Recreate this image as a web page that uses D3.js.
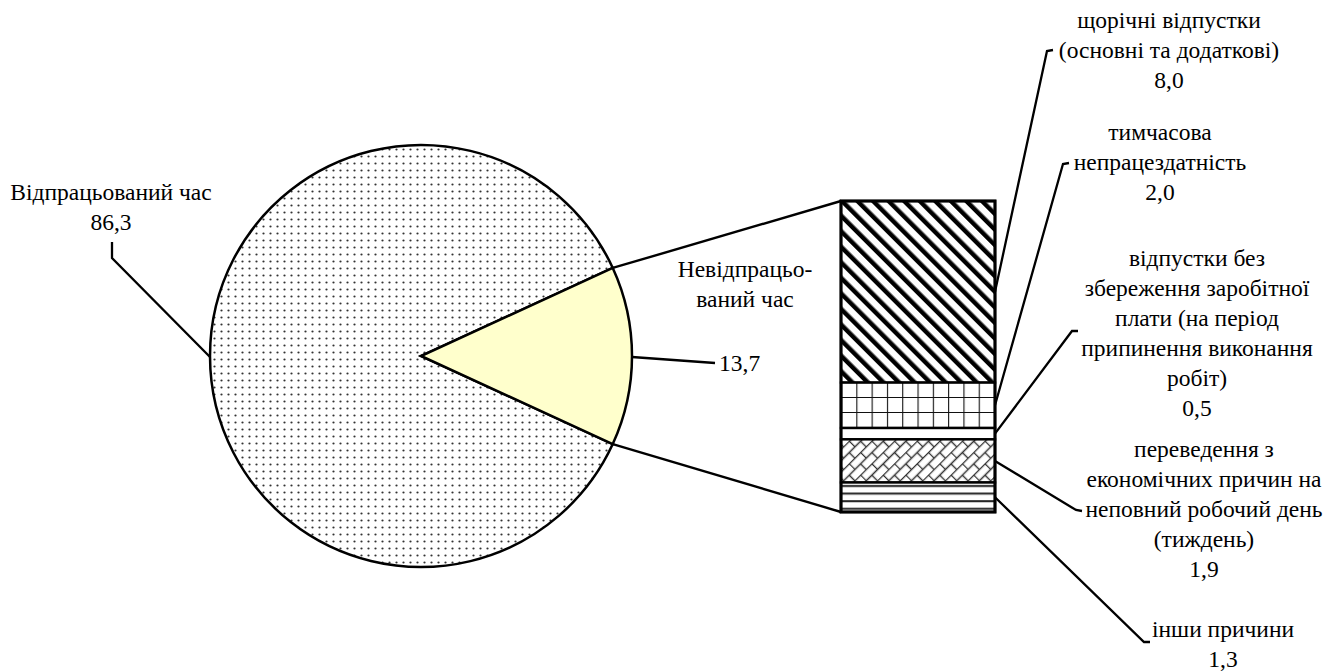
<!DOCTYPE html>
<html>
<head>
<meta charset="utf-8">
<script src="https://cdn.jsdelivr.net/npm/d3@7"></script>
<style>
	body { margin: 0; background: #fff; }
</style>
</head>
<body>
<div id="chart"></div>
<script>
// main pie
var mainLabels = [['Відпрацьований час'], ['Невідпрацьо-', 'ваний час']]
var mainValues = [86.3, 13.7]
var mainText = ['86,3', '13,7']

// breakdown of the unworked time
var subLabels = [
	['щорічні відпустки', '(основні та додаткові)'],
	['тимчасова', 'непрацездатність'],
	['відпустки без', 'збереження заробітної', 'плати (на період', 'припинення виконання', 'робіт)'],
	['переведення з', 'економічних причин на', 'неповний робочий день', '(тиждень)'],
	['інши причини']
]
var subValues = [8.0, 2.0, 0.5, 1.9, 1.3]
var subText = ['8,0', '2,0', '0,5', '1,9', '1,3']
var subPatterns = ['diag', 'grid', 'none', 'brick', 'hlines']

var width = 1337
var height = 671
var font = 'Liberation Serif'
var fontSize = '23.5px'

var svg = d3.select('#chart')
	.append('svg')
	.attr('width', width)
	.attr('height', height)

var defs = svg.append('defs')

var dots = defs.append('pattern')
	.attr('id', 'dots')
	.attr('patternUnits', 'userSpaceOnUse')
	.attr('width', 7)
	.attr('height', 7)
dots.append('rect').attr('width', 7).attr('height', 7).attr('fill', '#fff')
dots.append('circle').attr('cx', 3.5).attr('cy', 3.5).attr('r', 1.1).attr('fill', '#333')

var diag = defs.append('pattern')
	.attr('id', 'diag')
	.attr('patternUnits', 'userSpaceOnUse')
	.attr('width', 11)
	.attr('height', 11)
	.attr('patternTransform', 'rotate(-45)')
diag.append('rect').attr('width', 11).attr('height', 11).attr('fill', '#fff')
diag.append('rect').attr('x', 0).attr('width', 4.5).attr('height', 11).attr('fill', '#000')

var grid = defs.append('pattern')
	.attr('id', 'grid')
	.attr('patternUnits', 'userSpaceOnUse')
	.attr('x', 841)
	.attr('y', 382)
	.attr('width', 15.3)
	.attr('height', 15)
grid.append('rect').attr('width', 15.3).attr('height', 15).attr('fill', '#fff')
grid.append('path').attr('d', 'M0,0H15.3M0,0V15').attr('stroke', '#111').attr('stroke-width', 2.2).attr('fill', 'none')

var brick = defs.append('pattern')
	.attr('id', 'brick')
	.attr('patternUnits', 'userSpaceOnUse')
	.attr('width', 16)
	.attr('height', 16)
	.attr('patternTransform', 'rotate(-45)')
brick.append('rect').attr('width', 16).attr('height', 16).attr('fill', '#fff')
brick.append('path')
	.attr('d', 'M0,0.5H16M0,8.5H16M0.5,0.5V8.5M8.5,8.5V16.5')
	.attr('stroke', '#333').attr('stroke-width', 1.4).attr('fill', 'none')

var hlines = defs.append('pattern')
	.attr('id', 'hlines')
	.attr('patternUnits', 'userSpaceOnUse')
	.attr('y', 482)
	.attr('width', 10)
	.attr('height', 7.6)
hlines.append('rect').attr('width', 10).attr('height', 7.6).attr('fill', '#fff')
hlines.append('rect').attr('y', 3).attr('width', 10).attr('height', 2).attr('fill', '#222')

// pie
var cx = 421, cy = 356, r = 211
var half = mainValues[1] / d3.sum(mainValues) * Math.PI
var pie = d3.pie()
	.sort(null)
	.startAngle(Math.PI / 2 + half)
	.endAngle(Math.PI / 2 + half + 2 * Math.PI)
var arcs = pie(mainValues)
var arc = d3.arc().innerRadius(0).outerRadius(r)

var g = svg.append('g').attr('transform', 'translate(' + cx + ',' + cy + ')')
g.selectAll('path')
	.data(arcs)
	.enter()
	.append('path')
	.attr('d', arc)
	.attr('fill', (d, i) => i === 0 ? 'url(#dots)' : '#ffffcc')
	.attr('stroke', '#000')
	.attr('stroke-width', 2.5)

// stacked bar
var barX = 841, barW = 154
var y = d3.scaleLinear()
	.domain([0, d3.sum(subValues)])
	.range([201, 512])
var cum = 0
var stack = subValues.map(v => { var s = { y0: cum, y1: cum + v }; cum += v; return s })

// connector lines from the slice to the bar
var pa = arcs[1]
function edgePt(a) { return [cx + r * Math.sin(a), cy - r * Math.cos(a)] }
var topPt = edgePt(pa.startAngle)
var botPt = edgePt(pa.endAngle)
svg.append('line')
	.attr('x1', topPt[0]).attr('y1', topPt[1])
	.attr('x2', barX).attr('y2', y(0))
	.attr('stroke', '#000').attr('stroke-width', 2.4)
svg.append('line')
	.attr('x1', botPt[0]).attr('y1', botPt[1])
	.attr('x2', barX).attr('y2', y(d3.sum(subValues)))
	.attr('stroke', '#000').attr('stroke-width', 2.4)

svg.append('g')
	.selectAll('rect')
	.data(stack)
	.enter()
	.append('rect')
	.attr('x', barX)
	.attr('y', d => y(d.y0))
	.attr('width', barW)
	.attr('height', d => y(d.y1) - y(d.y0))
	.attr('fill', (d, i) => subPatterns[i] === 'none' ? '#fff' : 'url(#' + subPatterns[i] + ')')
	.attr('stroke', '#000')
	.attr('stroke-width', 2.4)

svg.append('rect')
	.attr('x', barX).attr('y', y(0))
	.attr('width', barW).attr('height', y(d3.sum(subValues)) - y(0))
	.attr('fill', 'none').attr('stroke', '#000').attr('stroke-width', 3)

// label layout
var subLayout = [
	{ x: 1169, y: 20, lead: [[1047, 51], [1053, 50]] },
	{ x: 1160, y: 132, lead: [[1063, 164], [1069, 163]] },
	{ x: 1197, y: 258, lead: [[1072, 331], [1078, 331]] },
	{ x: 1204, y: 449, lead: [[1076, 510], [1082, 511]] },
	{ x: 1223, y: 629, lead: [[1144, 642], [1150, 642]] }
]
var lineH = 30

function drawLabel(lines, x, y0) {
	var t = svg.append('text')
		.attr('text-anchor', 'middle')
		.attr('dominant-baseline', 'central')
		.style('font-family', font)
		.style('font-size', fontSize)
		.style('fill', '#000')
	lines.forEach((s, i) => {
		t.append('tspan').attr('x', x).attr('y', y0 + i * lineH).text(s)
	})
}

var line = d3.line()
stack.forEach((s, i) => {
	var start = [barX + barW, y((s.y0 + s.y1) / 2)]
	svg.append('path')
		.attr('d', line([start].concat(subLayout[i].lead)))
		.attr('fill', 'none')
		.attr('stroke', '#000')
		.attr('stroke-width', 2.3)
	drawLabel(subLabels[i].concat([subText[i]]), subLayout[i].x, subLayout[i].y)
})

// pie labels
var leftPt = [cx - r, cy + 1]
svg.append('path')
	.attr('d', line([leftPt, [112, 258], [112, 242]]))
	.attr('fill', 'none').attr('stroke', '#000').attr('stroke-width', 2.3)
drawLabel(mainLabels[0].concat([mainText[0]]), 111, 192)

var rightPt = [cx + r, cy + 1]
svg.append('path')
	.attr('d', line([rightPt, [715, 363]]))
	.attr('fill', 'none').attr('stroke', '#000').attr('stroke-width', 2.3)
svg.append('text')
	.attr('x', 719).attr('y', 363)
	.attr('dominant-baseline', 'central')
	.style('font-family', font)
	.style('font-size', fontSize)
	.style('fill', '#000')
	.text(mainText[1])
drawLabel(mainLabels[1], 745, 269)
</script>
</body>
</html>
